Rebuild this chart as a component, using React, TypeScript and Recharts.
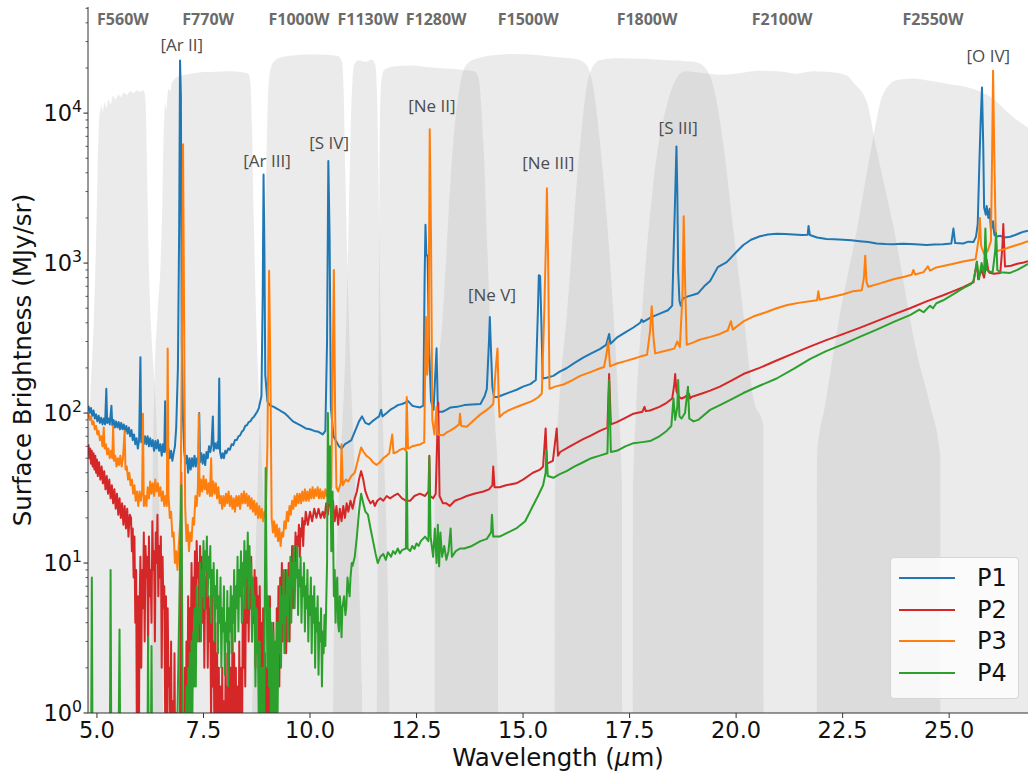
import React from 'react';
import { ComposedChart, Line, Area, XAxis, YAxis, ReferenceDot } from 'recharts';

type Pt = [number, number];

// wavelength (um), surface brightness (MJy/sr)
const p1: Pt[] = [
  [4.8, 112], [4.83, 100], [4.86, 108], [4.89, 96], [4.92, 104], [4.95, 92], [4.98, 98], [5.01, 88], [5.04, 96], [5.07, 86],
  [5.1, 93], [5.13, 84], [5.16, 92], [5.19, 84], [5.22, 145], [5.24, 86], [5.27, 92], [5.3, 84], [5.34, 112], [5.36, 83],
  [5.39, 90], [5.42, 80], [5.45, 88], [5.48, 80], [5.51, 87], [5.54, 78], [5.57, 86], [5.6, 78], [5.63, 84], [5.66, 75],
  [5.69, 82], [5.72, 73], [5.75, 80], [5.78, 70], [5.81, 77], [5.84, 66], [5.87, 72], [5.9, 62], [5.93, 68], [5.96, 58],
  [5.99, 66], [6.02, 236], [6.04, 64], [6.07, 72], [6.1, 62], [6.13, 70], [6.16, 62], [6.19, 70], [6.22, 60], [6.25, 68],
  [6.28, 60], [6.31, 66], [6.34, 56], [6.37, 65], [6.4, 58], [6.43, 66], [6.46, 56], [6.49, 62], [6.52, 52], [6.55, 62],
  [6.58, 55], [6.6, 120], [6.62, 58], [6.65, 52], [6.68, 58], [6.71, 50], [6.74, 56], [6.77, 48], [6.8, 54], [6.83, 60],
  [6.86, 80], [6.9, 200], [6.93, 1800], [6.95, 22400], [6.97, 13000], [6.99, 300], [7.02, 90], [7.05, 55], [7.08, 46],
  [7.11, 52], [7.14, 40], [7.17, 50], [7.2, 42], [7.23, 50], [7.26, 44], [7.29, 52], [7.32, 44], [7.35, 50], [7.38, 46],
  [7.4, 100], [7.42, 47], [7.45, 54], [7.48, 46], [7.51, 53], [7.54, 45], [7.57, 55], [7.6, 50], [7.63, 60], [7.66, 55],
  [7.69, 62], [7.72, 95], [7.74, 56], [7.77, 63], [7.8, 58], [7.83, 64], [7.85, 58], [7.87, 170], [7.89, 55], [7.92, 50],
  [7.95, 54], [7.98, 50], [8.01, 56], [8.04, 54], [8.08, 58], [8.12, 57], [8.16, 62], [8.2, 61], [8.24, 66], [8.28, 66],
  [8.32, 70], [8.36, 71], [8.4, 75], [8.44, 77], [8.48, 82], [8.52, 83], [8.56, 87], [8.6, 88], [8.64, 92], [8.68, 94],
  [8.72, 98], [8.76, 102], [8.8, 108], [8.86, 130], [8.89, 600], [8.91, 3900], [8.93, 1200], [8.95, 180], [9.0, 120],
  [9.05, 113], [9.15, 110], [9.25, 106], [9.32, 103], [9.4, 100], [9.5, 94], [9.6, 88], [9.7, 85], [9.8, 82], [9.9, 79],
  [10.0, 78], [10.1, 76], [10.2, 75], [10.3, 72], [10.36, 76], [10.4, 300], [10.43, 4800], [10.46, 1500], [10.49, 110],
  [10.55, 70], [10.6, 66], [10.68, 60], [10.74, 58], [10.82, 62], [10.9, 64], [10.97, 66], [11.05, 75], [11.15, 88],
  [11.22, 95], [11.3, 86], [11.38, 84], [11.46, 88], [11.55, 92], [11.62, 95], [11.67, 105], [11.7, 95], [11.8, 100],
  [11.9, 106], [12.0, 110], [12.06, 113], [12.16, 115], [12.26, 118], [12.28, 122], [12.4, 112], [12.5, 110], [12.58, 109],
  [12.66, 112], [12.69, 800], [12.71, 1800], [12.73, 1150], [12.76, 1100], [12.79, 300], [12.84, 120], [12.9, 105],
  [12.97, 270], [13.0, 102], [13.11, 102], [13.2, 105], [13.3, 109], [13.45, 110], [13.62, 113], [13.8, 114], [14.0, 115],
  [14.1, 130], [14.15, 145], [14.2, 300], [14.22, 437], [14.24, 300], [14.28, 150], [14.32, 128], [14.4, 128], [14.55, 133],
  [14.7, 138], [14.85, 143], [15.0, 150], [15.17, 156], [15.3, 166], [15.35, 500], [15.37, 830], [15.4, 820], [15.43, 400],
  [15.46, 170], [15.55, 172], [15.71, 177], [15.85, 188], [16.02, 199], [16.2, 215], [16.41, 234], [16.6, 250], [16.8, 267],
  [16.95, 285], [17.02, 337], [17.05, 290], [17.2, 318], [17.4, 345], [17.59, 372], [17.75, 400], [17.78, 420], [17.82, 405],
  [18.0, 435], [18.21, 460], [18.4, 485], [18.5, 520], [18.54, 1400], [18.56, 2200], [18.6, 6000], [18.62, 3000],
  [18.64, 890], [18.67, 560], [18.7, 520], [18.75, 580], [18.87, 600], [19.0, 615], [19.11, 630], [19.25, 700], [19.39, 760],
  [19.57, 940], [19.78, 1015], [20.0, 1180], [20.17, 1320], [20.35, 1430], [20.56, 1510], [20.75, 1550], [20.95, 1570],
  [21.15, 1560], [21.34, 1550], [21.55, 1540], [21.68, 1545], [21.7, 1770], [21.73, 1540], [21.9, 1480], [22.12, 1445],
  [22.3, 1440], [22.52, 1430], [22.7, 1420], [22.9, 1400], [23.1, 1380], [23.3, 1350], [23.5, 1340], [23.69, 1335],
  [23.9, 1345], [24.08, 1340], [24.3, 1330], [24.47, 1320], [24.65, 1330], [24.86, 1335], [25.05, 1350], [25.1, 1700],
  [25.14, 1360], [25.33, 1350], [25.45, 1390], [25.57, 1380], [25.63, 1500], [25.67, 1820], [25.71, 4800], [25.74, 9000],
  [25.77, 14800], [25.8, 6000], [25.82, 2350], [25.86, 2100], [25.88, 2400], [25.92, 2000], [25.95, 2300], [25.98, 1650],
  [26.03, 1900], [26.06, 1550], [26.1, 1500], [26.2, 1520], [26.3, 1480], [26.43, 1500], [26.55, 1540], [26.65, 1580],
  [26.75, 1620], [26.85, 1645],
];

const p2: Pt[] = [
  [4.8, 62], [4.82, 50], [4.84, 58], [4.86, 46], [4.88, 56], [4.9, 44], [4.92, 54], [4.94, 42], [4.96, 52], [4.98, 40],
  [5.0, 49], [5.02, 38], [5.05, 47], [5.08, 36], [5.11, 44], [5.14, 34], [5.17, 41], [5.2, 31], [5.23, 38], [5.26, 29],
  [5.29, 36], [5.32, 27], [5.35, 33], [5.38, 25], [5.41, 31], [5.44, 23], [5.47, 29], [5.5, 21], [5.53, 27], [5.56, 20],
  [5.59, 25], [5.62, 18], [5.65, 24], [5.68, 17], [5.71, 23], [5.74, 15], [5.77, 21], [5.8, 20], [5.82, 12], [5.84, 17],
  [5.86, 8], [5.88, 15], [5.9, 4], [5.92, 9], [5.94, 0.4], [5.96, 6], [5.98, 0.3], [6.0, 5], [6.02, 11], [6.04, 2],
  [6.06, 9], [6.08, 5], [6.1, 16], [6.12, 3], [6.14, 13], [6.16, 8], [6.18, 11], [6.2, 2.5], [6.22, 15], [6.24, 6],
  [6.26, 9], [6.28, 4], [6.3, 19], [6.32, 9], [6.34, 12], [6.36, 3], [6.38, 16], [6.4, 10], [6.42, 21], [6.44, 6],
  [6.46, 13], [6.48, 8], [6.5, 15], [6.52, 2], [6.54, 11], [6.56, 5], [6.58, 7], [6.6, 1], [6.62, 6], [6.64, 0.3],
  [6.66, 5], [6.68, 1.5], [6.7, 2], [6.72, 0.3], [6.74, 3], [6.76, 0.3], [6.78, 1.2], [6.8, 0.3], [6.82, 2.5], [6.84, 0.3],
  [6.86, 1], [6.88, 0.3], [6.94, 0.3], [6.98, 40], [7.0, 0.3], [7.04, 0.3], [7.06, 2], [7.08, 0.3], [7.1, 3], [7.12, 0.4],
  [7.14, 6], [7.16, 1], [7.18, 5], [7.2, 2.5], [7.22, 10], [7.24, 2], [7.26, 8], [7.28, 5], [7.3, 12], [7.32, 4], [7.34, 14],
  [7.36, 8], [7.38, 10], [7.4, 3], [7.42, 13], [7.44, 7], [7.46, 11], [7.48, 4], [7.5, 10], [7.52, 2], [7.54, 8], [7.56, 5],
  [7.58, 9], [7.6, 2], [7.62, 6], [7.64, 3], [7.66, 5], [7.68, 0.8], [7.7, 6], [7.72, 1.5], [7.74, 3], [7.76, 0.5],
  [7.78, 4], [7.8, 0.3], [7.82, 2.5], [7.84, 0.3], [7.86, 2], [7.88, 0.3], [7.9, 1.5], [7.92, 0.3], [7.94, 2], [7.96, 0.3],
  [7.98, 1.2], [8.0, 0.3], [8.02, 2.5], [8.04, 0.4], [8.06, 1.5], [8.08, 0.3], [8.1, 3], [8.12, 0.3], [8.14, 2], [8.16, 0.3],
  [8.18, 4], [8.2, 0.8], [8.22, 2.5], [8.24, 0.3], [8.26, 2], [8.28, 0.3], [8.3, 1.5], [8.32, 0.3], [8.34, 3], [8.36, 0.3],
  [8.38, 2], [8.4, 0.3], [8.42, 4], [8.44, 2], [8.46, 7], [8.48, 1.5], [8.5, 8], [8.52, 4], [8.54, 10], [8.56, 3], [8.58, 9],
  [8.6, 5], [8.62, 11], [8.64, 3], [8.66, 7], [8.68, 4], [8.7, 9], [8.72, 2], [8.74, 8], [8.76, 5], [8.78, 6], [8.8, 1.5],
  [8.82, 7], [8.84, 2], [8.86, 4], [8.88, 0.6], [8.9, 5], [8.92, 0.3], [8.94, 2.5], [8.96, 0.3], [8.98, 2], [9.0, 0.3],
  [9.02, 3], [9.04, 0.3], [9.06, 6], [9.08, 1], [9.1, 3], [9.12, 0.3], [9.14, 4], [9.16, 0.3], [9.18, 2], [9.2, 0.3],
  [9.22, 5], [9.24, 2], [9.26, 7], [9.28, 1.5], [9.3, 8], [9.32, 4], [9.34, 10], [9.36, 3], [9.38, 7], [9.4, 5], [9.42, 9],
  [9.44, 2.5], [9.46, 7], [9.48, 4], [9.5, 10], [9.52, 3], [9.54, 9], [9.56, 7], [9.58, 13], [9.6, 5], [9.62, 12], [9.64, 9],
  [9.66, 16], [9.68, 8], [9.7, 15], [9.72, 13], [9.74, 18], [9.76, 11], [9.78, 17], [9.8, 15], [9.82, 20], [9.84, 13],
  [9.86, 19], [9.88, 18], [9.9, 22], [9.95, 18], [10.0, 22], [10.05, 19], [10.1, 23], [10.15, 20], [10.2, 23], [10.25, 20],
  [10.3, 22], [10.34, 20], [10.38, 25], [10.42, 21], [10.46, 27], [10.5, 23], [10.54, 26], [10.58, 19], [10.62, 24],
  [10.66, 18], [10.7, 23], [10.74, 19], [10.78, 24], [10.82, 20], [10.86, 25], [10.9, 22], [10.95, 26], [11.0, 23],
  [11.05, 27], [11.1, 30], [11.15, 36], [11.2, 41], [11.25, 36], [11.3, 30], [11.36, 27], [11.42, 25], [11.48, 26],
  [11.52, 24], [11.58, 26], [11.65, 27], [11.72, 26], [11.8, 28], [11.88, 27], [11.96, 28], [12.06, 29], [12.16, 27],
  [12.26, 26], [12.35, 26], [12.45, 28], [12.58, 29], [12.7, 28], [12.78, 30], [12.8, 52], [12.82, 28], [12.89, 27],
  [12.95, 29], [13.01, 117], [13.04, 28], [13.12, 25], [13.2, 25], [13.28, 24], [13.4, 26], [13.55, 27], [13.68, 28],
  [13.85, 29], [14.07, 30], [14.2, 31], [14.28, 33], [14.3, 44], [14.33, 32], [14.45, 32], [14.6, 33], [14.84, 34], [15.0, 36],
  [15.23, 40], [15.4, 42], [15.47, 44], [15.53, 79], [15.56, 46], [15.7, 48], [15.79, 79], [15.82, 52], [15.87, 55],
  [16.1, 60], [16.41, 67], [16.6, 71], [16.8, 76], [16.98, 80], [17.02, 182], [17.06, 84], [17.2, 87], [17.4, 93],
  [17.59, 99], [17.8, 102], [17.85, 110], [17.88, 103], [17.98, 104], [18.2, 110], [18.37, 117], [18.5, 125], [18.55, 156],
  [18.57, 182], [18.6, 140], [18.66, 128], [18.72, 125], [18.8, 128], [18.89, 135], [18.92, 125], [18.95, 128], [19.2, 135],
  [19.39, 141], [19.62, 150], [19.9, 165], [20.17, 182], [20.55, 200], [20.95, 224], [21.35, 250], [21.73, 277], [22.1, 305],
  [22.52, 337], [22.9, 370], [23.3, 410], [23.7, 455], [24.08, 500], [24.47, 555], [24.86, 610], [25.1, 650], [25.33, 690],
  [25.5, 730], [25.57, 745], [25.65, 1020], [25.68, 780], [25.76, 900], [25.82, 800], [25.88, 1050], [25.92, 880],
  [25.95, 861], [26.05, 850], [26.2, 860], [26.25, 1300], [26.27, 1820], [26.29, 1300], [26.31, 950], [26.45, 960],
  [26.6, 990], [26.75, 1010], [26.85, 1030],
];

const p3: Pt[] = [
  [4.8, 100], [4.83, 90], [4.86, 95], [4.89, 84], [4.92, 88], [4.95, 78], [4.98, 82], [5.01, 72], [5.04, 76], [5.07, 66],
  [5.1, 70], [5.13, 60], [5.16, 80], [5.18, 58], [5.21, 62], [5.24, 53], [5.27, 58], [5.3, 50], [5.33, 56], [5.36, 50],
  [5.38, 82], [5.4, 48], [5.43, 52], [5.46, 44], [5.49, 50], [5.52, 45], [5.55, 52], [5.58, 44], [5.61, 50], [5.65, 76],
  [5.67, 42], [5.7, 44], [5.73, 36], [5.76, 40], [5.79, 33], [5.82, 36], [5.85, 29], [5.88, 33], [5.91, 26], [5.94, 30],
  [5.97, 24], [6.0, 30], [6.03, 26], [6.06, 30], [6.08, 99], [6.1, 24], [6.13, 28], [6.16, 24], [6.19, 32], [6.22, 27],
  [6.25, 35], [6.28, 29], [6.31, 34], [6.34, 28], [6.37, 36], [6.4, 30], [6.43, 34], [6.46, 28], [6.49, 32], [6.52, 26],
  [6.55, 30], [6.58, 24], [6.61, 28], [6.64, 24], [6.66, 269], [6.68, 28], [6.71, 20], [6.74, 22], [6.77, 15], [6.8, 16],
  [6.83, 10], [6.86, 12], [6.89, 9], [6.92, 13], [6.96, 20], [7.0, 500], [7.02, 6200], [7.04, 800], [7.07, 24], [7.1, 14],
  [7.13, 18], [7.16, 12], [7.19, 16], [7.22, 14], [7.25, 20], [7.28, 18], [7.31, 28], [7.34, 24], [7.37, 32], [7.39, 99],
  [7.41, 28], [7.44, 36], [7.47, 30], [7.5, 38], [7.53, 31], [7.56, 36], [7.59, 29], [7.62, 34], [7.65, 28], [7.68, 50],
  [7.7, 28], [7.73, 35], [7.76, 29], [7.79, 34], [7.82, 27], [7.85, 32], [7.88, 25], [7.91, 28], [7.94, 23], [7.97, 28],
  [8.0, 24], [8.03, 29], [8.06, 25], [8.09, 30], [8.12, 24], [8.15, 28], [8.18, 23], [8.21, 27], [8.24, 22], [8.27, 28],
  [8.3, 24], [8.33, 28], [8.36, 23], [8.39, 29], [8.42, 25], [8.45, 30], [8.48, 25], [8.51, 29], [8.54, 24], [8.57, 28],
  [8.6, 23], [8.63, 27], [8.66, 22], [8.69, 26], [8.72, 21], [8.75, 25], [8.78, 20], [8.81, 24], [8.84, 20], [8.87, 23],
  [8.9, 19], [8.93, 22], [8.96, 20], [9.0, 60], [9.04, 890], [9.07, 200], [9.1, 20], [9.13, 16], [9.16, 19], [9.19, 15],
  [9.22, 18], [9.25, 14], [9.28, 17], [9.31, 13], [9.34, 16], [9.37, 15], [9.4, 19], [9.43, 17], [9.46, 22], [9.49, 19],
  [9.52, 24], [9.55, 21], [9.58, 26], [9.61, 23], [9.64, 28], [9.67, 24], [9.7, 29], [9.73, 25], [9.76, 29], [9.79, 25],
  [9.82, 30], [9.85, 26], [9.88, 31], [9.91, 26], [9.94, 30], [9.97, 26], [10.0, 31], [10.03, 27], [10.06, 32], [10.09, 27],
  [10.12, 31], [10.15, 28], [10.18, 32], [10.21, 27], [10.24, 31], [10.27, 27], [10.3, 30], [10.33, 27], [10.36, 31],
  [10.39, 28], [10.42, 31], [10.46, 29], [10.5, 32], [10.54, 300], [10.56, 900], [10.59, 100], [10.62, 32], [10.66, 30],
  [10.72, 34], [10.74, 62], [10.77, 33], [10.84, 36], [10.9, 35], [10.97, 38], [11.05, 40], [11.12, 48], [11.2, 59],
  [11.26, 55], [11.32, 52], [11.4, 50], [11.48, 47], [11.56, 45], [11.64, 47], [11.72, 50], [11.8, 52], [11.86, 54],
  [11.93, 72], [11.96, 54], [12.04, 55], [12.11, 57], [12.2, 58], [12.25, 56], [12.27, 128], [12.3, 58], [12.4, 60],
  [12.5, 61], [12.6, 62], [12.68, 64], [12.72, 437], [12.75, 180], [12.78, 250], [12.81, 7800], [12.84, 1500], [12.87, 90],
  [12.92, 72], [12.97, 110], [13.0, 72], [13.12, 71], [13.2, 74], [13.28, 76], [13.4, 80], [13.5, 84], [13.52, 99],
  [13.55, 82], [13.68, 81], [13.85, 90], [14.0, 98], [14.15, 105], [14.22, 109], [14.3, 115], [14.36, 200], [14.4, 269],
  [14.43, 120], [14.45, 94], [14.55, 100], [14.65, 104], [14.82, 109], [15.0, 114], [15.21, 120], [15.35, 127], [15.44, 135],
  [15.5, 500], [15.54, 1500], [15.56, 3150], [15.59, 1000], [15.62, 145], [15.75, 150], [15.95, 155], [16.15, 165],
  [16.34, 177], [16.55, 186], [16.73, 195], [16.9, 203], [16.95, 240], [17.0, 300], [17.04, 205], [17.2, 214], [17.4, 222],
  [17.59, 230], [17.75, 238], [17.91, 245], [17.98, 350], [18.02, 515], [18.06, 320], [18.1, 250], [18.3, 258], [18.55, 269],
  [18.62, 300], [18.68, 275], [18.74, 600], [18.77, 2050], [18.8, 800], [18.84, 285], [19.0, 296], [19.14, 308], [19.4, 322],
  [19.62, 337], [19.8, 355], [19.88, 410], [19.92, 360], [20.17, 408], [20.4, 440], [20.7, 470], [20.95, 500], [21.2, 525],
  [21.5, 545], [21.9, 565], [21.93, 650], [21.96, 570], [22.2, 590], [22.52, 620], [22.75, 650], [22.95, 660], [23.0, 800],
  [23.03, 1120], [23.06, 750], [23.1, 695], [23.4, 735], [23.69, 780], [23.95, 810], [24.12, 835], [24.16, 900], [24.2, 840],
  [24.4, 870], [24.5, 950], [24.55, 890], [24.7, 935], [24.86, 955], [25.1, 990], [25.3, 1020], [25.49, 1045], [25.62, 1060],
  [25.7, 1500], [25.72, 2000], [25.75, 1300], [25.82, 1150], [25.9, 1200], [25.98, 1400], [26.01, 6000], [26.03, 19200],
  [26.06, 5000], [26.09, 1700], [26.12, 1200], [26.2, 1220], [26.27, 1230], [26.4, 1270], [26.55, 1310], [26.7, 1350],
  [26.85, 1400],
];

const p4: Pt[] = [
  [4.8, 0.3], [4.86, 0.3], [4.88, 8], [4.9, 0.3], [5.0, 0.3], [5.2, 0.3], [5.3, 0.3], [5.32, 9], [5.34, 0.3], [5.5, 0.3],
  [5.53, 3.6], [5.55, 0.3], [5.9, 0.3], [6.18, 0.3], [6.2, 3.2], [6.22, 0.3], [6.26, 0.3], [6.28, 2.8], [6.3, 0.3],
  [6.86, 0.3], [6.98, 33], [7.0, 5], [7.02, 0.3], [7.04, 0.3], [7.06, 1], [7.08, 0.3], [7.1, 1.5], [7.12, 0.3], [7.14, 2],
  [7.16, 0.5], [7.18, 2.5], [7.2, 0.6], [7.22, 3], [7.24, 1], [7.26, 3.5], [7.28, 1.5], [7.3, 5], [7.32, 1.5], [7.34, 7],
  [7.36, 3], [7.38, 5], [7.4, 4], [7.42, 10], [7.44, 3], [7.46, 9], [7.48, 6], [7.5, 14], [7.52, 5], [7.54, 12], [7.56, 9],
  [7.58, 15], [7.6, 6], [7.62, 11], [7.64, 8], [7.66, 13], [7.68, 4], [7.7, 9], [7.72, 6], [7.74, 10], [7.76, 3], [7.78, 7],
  [7.8, 5], [7.82, 9], [7.84, 2.5], [7.86, 6], [7.88, 4], [7.9, 8], [7.92, 2], [7.94, 5], [7.96, 3.5], [7.98, 7], [8.0, 1.8],
  [8.02, 4], [8.04, 3], [8.06, 6.5], [8.08, 1.5], [8.1, 5], [8.12, 3.5], [8.14, 7], [8.16, 2.5], [8.18, 6], [8.2, 4],
  [8.22, 9], [8.24, 3], [8.26, 7], [8.28, 5], [8.3, 11], [8.32, 3.5], [8.34, 9], [8.36, 6], [8.38, 12], [8.4, 4], [8.42, 10],
  [8.44, 7], [8.46, 14], [8.48, 5], [8.5, 12], [8.52, 8], [8.54, 16], [8.56, 5], [8.58, 13], [8.6, 7], [8.62, 10], [8.64, 3],
  [8.66, 8], [8.68, 4.5], [8.7, 6], [8.72, 1.5], [8.74, 5], [8.76, 2.5], [8.78, 3], [8.8, 0.7], [8.82, 3], [8.84, 0.6],
  [8.86, 2], [8.88, 0.3], [8.9, 2], [8.92, 0.5], [8.94, 6], [8.96, 43], [8.98, 8], [9.0, 2], [9.02, 6], [9.04, 1.5],
  [9.06, 5], [9.08, 1], [9.1, 4], [9.12, 0.8], [9.14, 3.5], [9.16, 0.4], [9.18, 3], [9.2, 0.4], [9.22, 4], [9.24, 1],
  [9.26, 4], [9.28, 2.5], [9.3, 7], [9.32, 2], [9.34, 6], [9.36, 4], [9.38, 9], [9.4, 2.5], [9.42, 6], [9.44, 4.5], [9.46, 9],
  [9.48, 3], [9.5, 8], [9.52, 6], [9.54, 11], [9.56, 4], [9.58, 10], [9.6, 7], [9.62, 13], [9.64, 5], [9.66, 10], [9.68, 8],
  [9.7, 13], [9.72, 4.5], [9.74, 9], [9.76, 7], [9.78, 11], [9.8, 4], [9.82, 8], [9.84, 6], [9.86, 10], [9.88, 3.5], [9.9, 7],
  [9.92, 5], [9.94, 9], [9.96, 3], [9.98, 6], [10.0, 4.5], [10.02, 8], [10.04, 2.5], [10.06, 6], [10.08, 4], [10.1, 7],
  [10.12, 2], [10.14, 5], [10.16, 3.5], [10.18, 6], [10.2, 1.8], [10.22, 4], [10.24, 3], [10.26, 5], [10.28, 1.5],
  [10.3, 3.5], [10.32, 2.5], [10.34, 4.5], [10.36, 2.8], [10.4, 10], [10.42, 100], [10.44, 25], [10.47, 60], [10.5, 12],
  [10.53, 30], [10.56, 6], [10.58, 9], [10.6, 4], [10.62, 7], [10.64, 8], [10.66, 4], [10.68, 3.5], [10.7, 6], [10.72, 5],
  [10.74, 3.2], [10.76, 5], [10.8, 6], [10.83, 4.5], [10.85, 5], [10.88, 8], [10.9, 7], [10.93, 6], [10.95, 8], [10.98, 10],
  [11.0, 9.6], [11.05, 11], [11.1, 15], [11.15, 22], [11.2, 29], [11.25, 25], [11.3, 22], [11.36, 21], [11.42, 17],
  [11.48, 14], [11.54, 11.5], [11.59, 10], [11.65, 11], [11.72, 11.5], [11.78, 10.5], [11.83, 11.8], [11.9, 11],
  [11.95, 12], [12.0, 11.5], [12.06, 12.5], [12.11, 11.6], [12.16, 12.2], [12.25, 12.5], [12.27, 55], [12.29, 12.5],
  [12.35, 12], [12.4, 13], [12.45, 12.4], [12.5, 13.5], [12.55, 13], [12.6, 14], [12.7, 15], [12.78, 14], [12.8, 51],
  [12.83, 15], [12.89, 11], [12.93, 17], [12.97, 10], [13.0, 18], [13.03, 9.5], [13.06, 16], [13.1, 11], [13.15, 13],
  [13.2, 10.5], [13.25, 12], [13.3, 17], [13.33, 11], [13.42, 12], [13.52, 12.5], [13.62, 12.5], [13.8, 13], [14.0, 14],
  [14.15, 14.5], [14.25, 16], [14.27, 21], [14.3, 15], [14.45, 15], [14.65, 16], [14.84, 17], [15.05, 19], [15.23, 24],
  [15.35, 28], [15.47, 33], [15.53, 40], [15.55, 56], [15.58, 38], [15.71, 37], [15.85, 39], [16.02, 41], [16.2, 44],
  [16.41, 47], [16.6, 50], [16.8, 52], [16.98, 54], [17.02, 166], [17.06, 55], [17.2, 56], [17.4, 60], [17.59, 63],
  [17.8, 64], [17.98, 65], [18.2, 70], [18.37, 76], [18.48, 82], [18.53, 125], [18.57, 90], [18.62, 110], [18.64, 166],
  [18.67, 95], [18.72, 92], [18.8, 100], [18.87, 150], [18.9, 92], [19.0, 88], [19.11, 90], [19.39, 105], [19.62, 113],
  [19.9, 124], [20.17, 136], [20.55, 152], [20.95, 170], [21.35, 197], [21.73, 229], [22.1, 258], [22.52, 288], [22.9, 322],
  [23.3, 360], [23.7, 405], [24.08, 450], [24.3, 490], [24.4, 470], [24.55, 520], [24.62, 500], [24.7, 540], [24.86, 565],
  [25.1, 620], [25.33, 680], [25.5, 720], [25.57, 760], [25.62, 900], [25.65, 1020], [25.7, 780], [25.76, 1000],
  [25.82, 850], [25.85, 1700], [25.88, 900], [25.95, 880], [26.02, 870], [26.08, 1200], [26.1, 1590], [26.13, 900],
  [26.2, 870], [26.43, 860], [26.6, 900], [26.75, 950], [26.85, 990],
];

// MIRI filter throughput curves, as drawn (scaled onto the flux axis)
const f560w: Pt[] = [
  [4.7, 20], [4.78, 60], [4.86, 160], [4.93, 450], [4.98, 1400], [5.02, 4500], [5.05, 9000], [5.08, 10500], [5.11, 11200],
  [5.14, 10200], [5.18, 11800], [5.22, 10800], [5.27, 12300], [5.32, 11500], [5.38, 13000], [5.44, 12300], [5.5, 13300],
  [5.56, 12800], [5.63, 13700], [5.7, 13200], [5.78, 14000], [5.86, 13600], [5.94, 14200], [6.02, 13900], [6.08, 14200],
  [6.12, 13500], [6.15, 10000], [6.18, 3500], [6.22, 900], [6.28, 330], [6.35, 160], [6.42, 60], [6.48, 15], [6.53, 3],
  [6.56, 0.5],
];
const f770w: Pt[] = [
  [6.26, 0.5], [6.3, 20], [6.35, 160], [6.42, 450], [6.5, 1100], [6.54, 2800], [6.57, 8000], [6.61, 11500], [6.63, 10500],
  [6.66, 13500], [6.69, 14500], [6.72, 14000], [6.76, 16000], [6.82, 16800], [6.9, 17500], [7.0, 17800], [7.2, 18300],
  [7.5, 18800], [7.8, 18900], [8.1, 19000], [8.4, 18700], [8.55, 18300], [8.6, 16000], [8.64, 8000], [8.68, 2000],
  [8.73, 500], [8.8, 140], [8.9, 30], [9.0, 5], [9.08, 0.5],
];
const f1000w: Pt[] = [
  [8.62, 0.5], [8.7, 6], [8.78, 40], [8.86, 200], [8.93, 1200], [8.98, 5000], [9.01, 12000], [9.04, 17000], [9.08, 20000],
  [9.15, 22000], [9.3, 23500], [9.6, 24200], [10.0, 24600], [10.4, 24500], [10.65, 24000], [10.75, 22000], [10.79, 14000],
  [10.83, 4000], [10.88, 900], [10.95, 200], [11.05, 40], [11.15, 8], [11.22, 1.5], [11.23, 0.5],
];
const f1130w: Pt[] = [
  [10.54, 0.5], [10.56, 3], [10.64, 15], [10.74, 60], [10.84, 300], [10.91, 2000], [10.96, 9000], [11.0, 17000],
  [11.05, 21500], [11.15, 22500], [11.3, 22000], [11.45, 22800], [11.53, 21000], [11.57, 14000], [11.6, 5000],
  [11.63, 1200], [11.67, 250], [11.74, 50], [11.82, 8], [11.88, 0.5],
];
const f1280w: Pt[] = [
  [11.56, 0.5], [11.59, 15], [11.61, 300], [11.63, 4000], [11.65, 12000], [11.68, 17000], [11.75, 19500], [12.0, 20500],
  [12.4, 20800], [12.8, 20200], [13.2, 19800], [13.6, 19400], [13.85, 19000], [13.95, 17400], [14.07, 6200], [14.22, 460],
  [14.35, 80], [14.41, 35], [14.415, 0.5],
];
const f1500w: Pt[] = [
  [12.925, 0.5], [12.93, 35], [13.0, 150], [13.12, 460], [13.36, 6200], [13.56, 17400], [13.7, 21500], [13.9, 23000],
  [14.3, 24300], [14.8, 24800], [15.3, 24400], [15.8, 23600], [16.2, 23000], [16.45, 21500], [16.64, 15300], [16.81, 6200],
  [17.12, 460], [17.25, 100], [17.32, 35], [17.325, 0.5],
];
const f1800w: Pt[] = [
  [15.745, 0.5], [15.75, 35], [15.85, 120], [16.03, 460], [16.34, 6200], [16.5, 15300], [16.62, 20000], [16.8, 22500],
  [17.2, 23200], [17.8, 23000], [18.4, 22500], [19.0, 22000], [19.2, 21000], [19.35, 18500], [19.46, 15300], [19.7, 6200],
  [19.93, 1700], [20.17, 460], [20.4, 128], [20.64, 82], [20.645, 0.5],
];
const f2100w: Pt[] = [
  [17.575, 0.5], [17.58, 30], [17.65, 100], [17.8, 500], [18.05, 3250], [18.4, 12000], [18.6, 17000], [18.8, 19000],
  [19.2, 18500], [19.6, 18000], [20.0, 18300], [20.5, 19200], [21.0, 19000], [21.4, 18300], [21.8, 19000], [22.2, 18800],
  [22.6, 17800], [22.75, 16000], [23.07, 11800], [23.27, 6200], [23.7, 1700], [24.25, 245], [24.55, 113], [24.79, 52],
  [24.795, 0.5],
];
const f2550w: Pt[] = [
  [21.895, 0.5], [21.9, 52], [22.09, 113], [22.44, 460], [22.84, 1700], [23.19, 6200], [23.45, 13400], [23.78, 16600],
  [24.15, 17000], [24.5, 16500], [24.95, 15700], [25.49, 14700], [25.96, 12900], [26.5, 9400], [26.85, 8000], [27.0, 7500],
];

const filterCurves = [f560w, f770w, f1000w, f1130w, f1280w, f1500w, f1800w, f2100w, f2550w];

// filter name, wavelength of label centre
const filterLabels: [string, number][] = [
  ['F560W', 5.61], ['F770W', 7.61], ['F1000W', 9.74], ['F1130W', 11.36], ['F1280W', 12.96],
  ['F1500W', 15.12], ['F1800W', 17.91], ['F2100W', 21.08], ['F2550W', 24.62],
];
const filterLabelLevel = 42300;

// emission line name, wavelength, flux level of label centre
const lineLabels: [string, number, number][] = [
  ['[Ar II]', 6.99, 28400], ['[Ar III]', 8.99, 4790], ['[S IV]', 10.45, 6310], ['[Ne II]', 12.86, 11130],
  ['[Ne V]', 14.27, 612], ['[Ne III]', 15.59, 4640], ['[S III]', 18.64, 7940], ['[O IV]', 25.92, 24000],
];

const seriesNames = ['P1', 'P2', 'P3', 'P4'];
const seriesData = [p1, p2, p3, p4];
const seriesColors = ['#1f77b4', '#d62728', '#ff7f0e', '#2ca02c'];

const xTicks = [5, 7.5, 10, 12.5, 15, 17.5, 20, 22.5, 25];
const yTicks: number[] = [];
for (let e = 0; e <= 4; e++) for (let m = 1; m <= 9; m++) yTicks.push(m * Math.pow(10, e));

const toRows = (pts: Pt[]) => pts.map(([x, y]) => ({ x, y }));

const axisColor = '#333';
const tickFont = 'DejaVu Sans, sans-serif';

const YTick = ({ x, y, payload }: any) => {
  const lg = Math.log10(payload.value);
  const exp = Math.round(lg);
  const major = Math.abs(lg - exp) < 1e-6;
  return (
    <g>
      <line x1={x} x2={x - (major ? 4.5 : 2.5)} y1={y} y2={y} stroke={axisColor} strokeWidth={major ? 1.1 : 0.8} />
      {major && (
        <text x={x - 6} y={y + 8} textAnchor="end" fontFamily={tickFont} fontSize={22.5} fill="#111">
          10<tspan dy={-9} fontSize={15.7}>{exp}</tspan>
        </text>
      )}
    </g>
  );
};

const YLabel = ({ viewBox }: any) => {
  const cx = viewBox.x + 22;
  const cy = viewBox.y + viewBox.height / 2;
  return (
    <text transform={`translate(${cx},${cy}) rotate(-90)`} textAnchor="middle" dominantBaseline="central"
      fontFamily={tickFont} fontSize={24.5} fill="#111">
      Surface Brightness (MJy/sr)
    </text>
  );
};

const XLabel = ({ viewBox }: any) => (
  <text x={viewBox.x + viewBox.width / 2} y={viewBox.y + 53} textAnchor="middle" fontFamily={tickFont} fontSize={24.5} fill="#111">
    Wavelength (<tspan fontStyle="italic">μ</tspan>m)
  </text>
);

const Legend = () => (
  <div style={{
    position: 'absolute', left: 890, top: 557, width: 129, height: 142, boxSizing: 'border-box',
    background: 'rgba(255,255,255,0.8)', border: '1px solid #d6d6d6', borderRadius: 4,
  }}>
    {seriesNames.map((name, i) => (
      <div key={name} style={{ position: 'absolute', left: 8, top: 6 + i * 31.7, height: 28, display: 'flex', alignItems: 'center' }}>
        <div style={{ width: 56, height: 0, borderTop: `2px solid ${seriesColors[i]}` }} />
        <span style={{ marginLeft: 22, fontFamily: tickFont, fontSize: 24, lineHeight: '28px', color: '#111' }}>{name}</span>
      </div>
    ))}
  </div>
);

export default function App() {
  return (
    <div style={{ position: 'absolute', left: 0, top: 0, width: 1028, height: 775, background: '#fff' }}>
      <ComposedChart width={1028} height={775} margin={{ top: 7, right: 0, bottom: 0, left: 0 }}>
        <XAxis
          type="number" dataKey="x" domain={[4.79, 26.85]} allowDataOverflow ticks={xTicks} interval={0}
          tickFormatter={(v: number) => v.toFixed(1)} height={62} tickSize={5} tickMargin={4}
          stroke={axisColor} tick={{ fontSize: 22.5, fontFamily: tickFont, fill: '#111' }}
          label={<XLabel />}
        />
        <XAxis xAxisId="top" orientation="top" type="number" domain={[4.79, 26.85]} allowDataOverflow height={0}
          tick={false} tickLine={false} stroke={axisColor} />
        <YAxis
          type="number" scale="log" domain={[1, 51000]} allowDataOverflow ticks={yTicks} interval={0} width={88}
          tickSize={0} tickMargin={0} tickLine={false} tick={<YTick />} stroke={axisColor}
          label={<YLabel />}
        />
        {filterCurves.map((pts, i) => (
          <Area key={`f${i}`} data={toRows(pts)} dataKey="y" type="monotoneX" stroke="none" fill="#afafaf"
            fillOpacity={0.25} isAnimationActive={false} dot={false} activeDot={false} />
        ))}
        {seriesData.map((pts, i) => (
          <Line key={seriesNames[i]} name={seriesNames[i]} data={toRows(pts)} dataKey="y" stroke={seriesColors[i]}
            strokeWidth={2} strokeLinejoin="round" dot={false} activeDot={false} isAnimationActive={false} />
        ))}
        {filterLabels.map(([name, wl]) => (
          <ReferenceDot key={name} x={wl} y={filterLabelLevel} r={0} fill="none" stroke="none" ifOverflow="visible"
            label={{ value: name, position: 'center', fill: '#6b6b6b', fontSize: 16, fontWeight: 700, fontFamily: 'Open Sans, sans-serif' }} />
        ))}
        {lineLabels.map(([name, wl, lvl]) => (
          <ReferenceDot key={name} x={wl} y={lvl} r={0} fill="none" stroke="none" ifOverflow="visible"
            label={{ value: name, position: 'center', fill: '#4d4d4d', fontSize: 17, fontFamily: 'Open Sans, sans-serif' }} />
        ))}
      </ComposedChart>
      <Legend />
    </div>
  );
}
